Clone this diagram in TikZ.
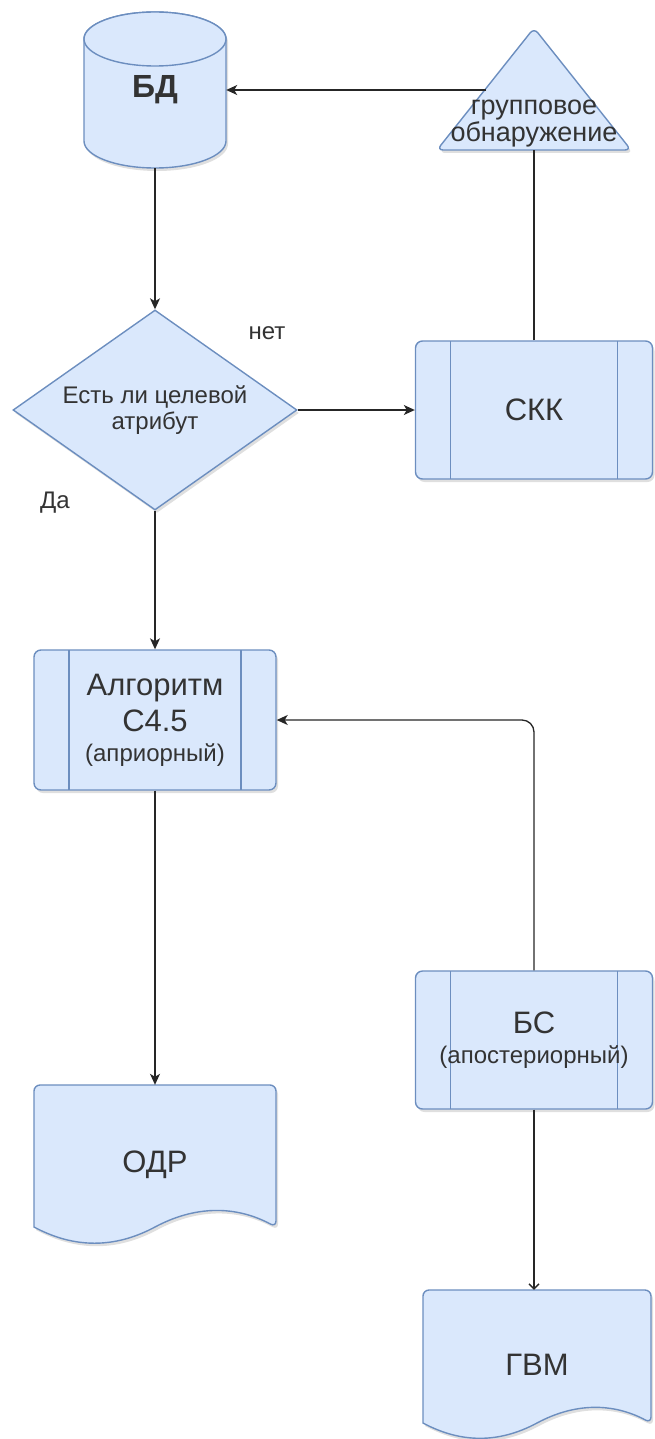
\documentclass[tikz,border=0pt]{standalone}
\usepackage{fontspec}
\setmainfont{Liberation Sans}
\usetikzlibrary{arrows.meta,shapes.geometric,shadows}
\definecolor{boxfill}{HTML}{DAE8FC}
\definecolor{boxline}{HTML}{6C8EBF}
\definecolor{txt}{HTML}{333333}
\tikzset{
 shpns/.style={draw=boxline,fill=boxfill,line width=1.4pt},
 shp/.style={shpns,drop shadow={opacity=.25,shadow xshift=2pt,shadow yshift=-3pt}},
 big/.style={font=\fontsize{31}{36}\selectfont},
 mid/.style={font=\fontsize{24}{26}\selectfont},
 proc/.style={shp,rectangle,rounded corners=7pt,minimum width=237pt,minimum height=138pt,align=center,big,
  path picture={\draw[boxline,line width=1.4pt]
   ([xshift=35pt]path picture bounding box.north west)--([xshift=35pt]path picture bounding box.south west)
   ([xshift=-35pt]path picture bounding box.north east)--([xshift=-35pt]path picture bounding box.south east);}},
 ln/.style={draw=black!85,line width=1.3pt},
 arr/.style={ln,-{Stealth[length=11pt,width=10pt,inset=3pt]}}
}
% x y w h dy
\newcommand\docshape[5]{%
\filldraw[shp,shift={(#1,#2)}] (0,{#4-#5/2}) [rounded corners=6pt] -- (0,0) -- (#3,0) -- (#3,{#4-#5/2}) [sharp corners]
 .. controls ({#3*5/6},{#4-1.1*#5}) and ({#3*2/3},{#4-1.1*#5}) .. ({#3/2},{#4-#5/2})
 .. controls ({#3/3},{#4+0.1*#5}) and ({#3/6},{#4+0.1*#5}) .. (0,{#4-#5/2}) -- cycle;}
\begin{document}
\begin{tikzpicture}[x=1pt,y=-1pt,text=txt]
\useasboundingbox (0,0) rectangle (655,1439);
% shapes drawn by hand
\filldraw[shp] (84,39) -- (84,141) arc[start angle=180,end angle=0,x radius=71,y radius=27]
 -- (226,39) arc[start angle=0,end angle=-180,x radius=71,y radius=27] -- cycle;
\filldraw[shpns] (155,39) ellipse[x radius=71,y radius=27];
\filldraw[shp,rounded corners=6pt] (534,28) -- (631,150) -- (437,150) -- cycle;
\docshape{34}{1085}{242}{160}{36}
\docshape{423}{1290}{228}{150}{34}
% nodes
\node[font=\bfseries\fontsize{32}{36}\selectfont,minimum width=142pt,minimum height=156pt,inner sep=0pt] (db) at (155,90) {БД};
\node[font=\fontsize{27}{27}\selectfont,align=center] (grp) at (534,124) {групповое\\обнаружение};
\coordinate (gl) at (486,90);
\coordinate (gb) at (534,150);
\node[shp,diamond,aspect=1.42,minimum width=284pt,minimum height=200pt,inner sep=0pt,align=center,mid] (check) at (155,410) {Есть ли целевой\\атрибут};
\node[mid] (no) at (267,333) {нет};
\node[mid] (yes) at (55,503) {Да};
\node[proc] (skk) at (534,410) {СКК};
\node[proc,minimum width=242pt,minimum height=140pt] (algo) at (155,720) {Алгоритм\\C4.5\\[-6pt]{\fontsize{24}{26}\selectfont(априорный)}};
\node[proc] (bs) at (534,1040) {БС\\[-6pt]{\fontsize{24}{26}\selectfont(апостериорный)}};
\node[big,minimum width=242pt,minimum height=160pt,inner sep=0pt] (odr) at (155,1165) {ОДР};
\node[big,minimum width=228pt,minimum height=150pt,inner sep=0pt] (gvm) at (537,1365) {ГВМ};
% connectors
\draw[arr] (gl) -- (db.east);
\draw[arr] (db.south) -- (check.north);
\draw[arr] (check.east) -- (skk.west);
\draw[ln] (skk.north) -- (gb);
\draw[arr] (check.south) -- (algo.north);
\draw[arr] (algo.south) -- (odr.north);
\draw[arr,rounded corners=12pt] (bs.north) |- (algo.east);
\draw[ln,-{Straight Barb[length=5pt,width=10pt]}] (bs.south) -- (bs.south |- gvm.north);
\end{tikzpicture}
\end{document}
